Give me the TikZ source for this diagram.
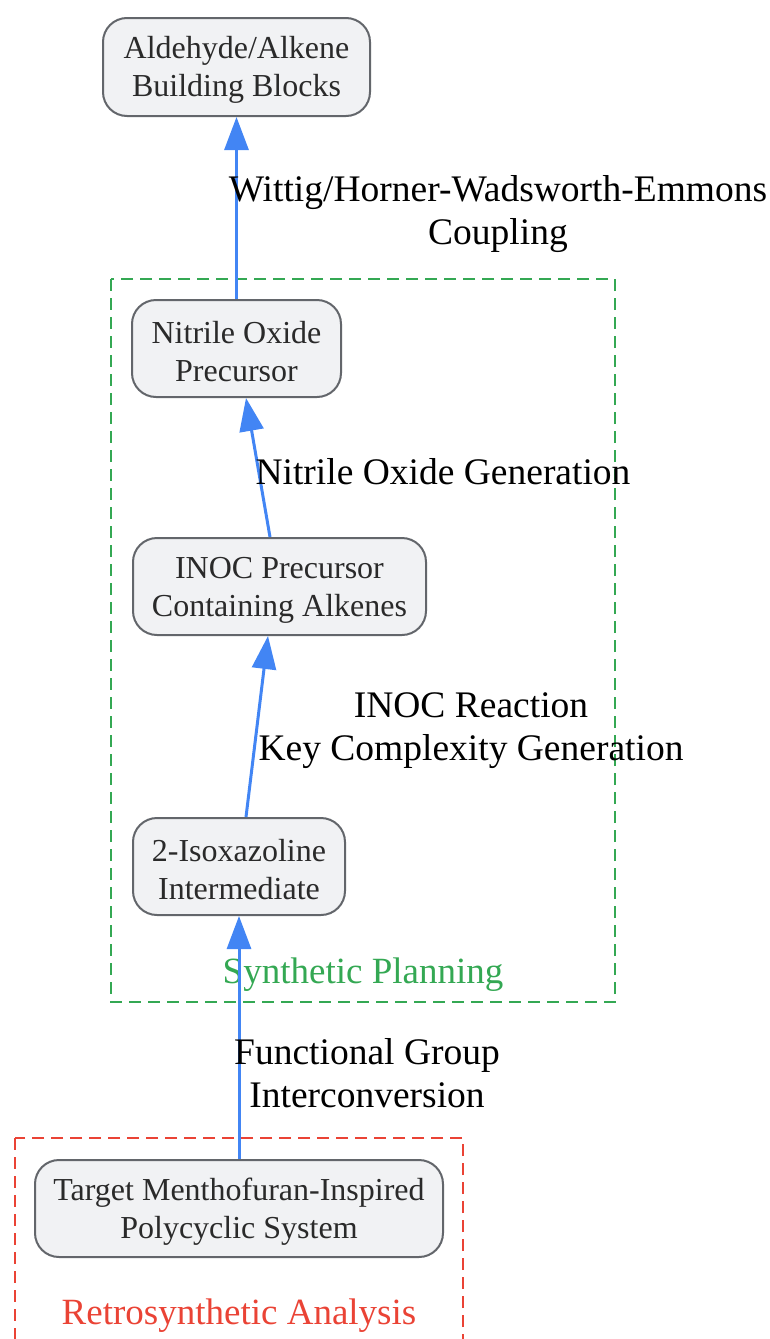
\documentclass[tikz,border=0pt]{standalone}
\usepackage{fontspec}
\setmainfont{Liberation Serif}
\usetikzlibrary{arrows.meta}
\definecolor{nodefill}{HTML}{F1F2F4}
\definecolor{nodeline}{HTML}{63666B}
\definecolor{nodetext}{HTML}{2A2A2A}
\definecolor{edgeblue}{HTML}{4285F4}
\definecolor{grp1}{HTML}{34A853}
\definecolor{grp2}{HTML}{EA4335}
\newcommand{\toppad}{\rule{0pt}{28pt}}
\tikzset{
  stepbox/.style={draw=nodeline, line width=2pt, fill=nodefill, rounded corners=24pt,
    text=nodetext, font=\fontsize{32}{38}\selectfont, align=center, inner sep=0pt},
  edgelab/.style={font=\fontsize{37.5}{43}\selectfont, align=center, text=black, yshift=-3pt},
  grplab/.style={font=\fontsize{37}{38}\selectfont, yshift=-3pt},
  flow/.style={draw=edgeblue, line width=3pt, -{Triangle[length=33pt,width=24pt]}},
  grpbox/.style={dashed, dash pattern=on 12pt off 7pt, line width=2pt},
}
\begin{document}
\begin{tikzpicture}[x=1pt,y=-1pt]
\useasboundingbox (0,0) rectangle (769,1339);
\begin{scope}
\clip (0,0) rectangle (769,1339);
\draw[grpbox, draw=grp1] (111,279) rectangle (615,1002);
\draw[grpbox, draw=grp2] (15,1138) rectangle (463,1360);
\end{scope}
\node[grplab, text=grp1] (lab1) at (363,972) {Synthetic Planning};
\node[grplab, text=grp2] (lab2) at (239,1313) {Retrosynthetic Analysis};

\node[stepbox, minimum width=267pt, minimum height=98pt] (ald) at (236.5,67) {\toppad Aldehyde/Alkene\\Building Blocks};
\node[stepbox, minimum width=209pt, minimum height=97pt] (nit) at (236.5,348.5) {\toppad Nitrile Oxide\\Precursor};
\node[stepbox, minimum width=293pt, minimum height=97pt] (inoc) at (279.5,586.5) {\toppad INOC Precursor\\Containing Alkenes};
\node[stepbox, minimum width=212pt, minimum height=97pt] (iso) at (239,866.5) {\toppad 2-Isoxazoline\\Intermediate};
\node[stepbox, minimum width=408pt, minimum height=97pt] (tgt) at (239,1208.5) {\toppad Target Menthofuran-Inspired\\Polycyclic System};

\draw[flow] (tgt.north) -- (iso.south);
\draw[flow] (iso.north -| 246,0) -- (inoc.south -| 268,0);
\draw[flow] (inoc.north -| 270,0) -- (nit.south -| 246,0);
\draw[flow] (nit.north) -- (ald.south);

\node[edgelab] (l1) at (367,1070) {Functional Group\\Interconversion};
\node[edgelab] (l2) at (471,728) {INOC Reaction\\Key Complexity Generation};
\node[edgelab] (l3) at (443,469) {Nitrile Oxide Generation};
\node[edgelab] (l4) at (498,211) {Wittig/Horner-Wadsworth-Emmons\\Coupling};
\end{tikzpicture}
\end{document}
